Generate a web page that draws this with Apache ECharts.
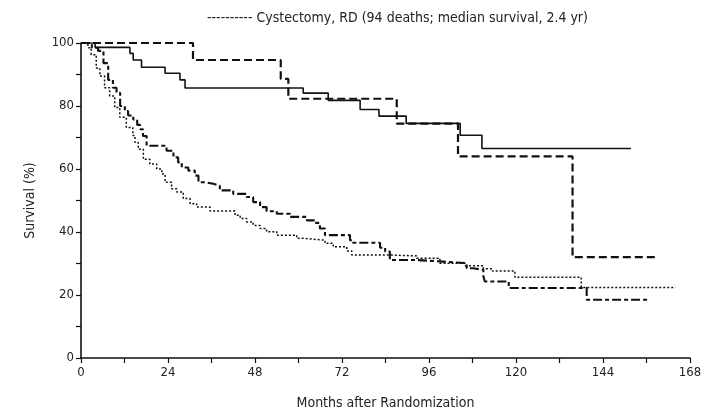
<!DOCTYPE html>
<html><head><meta charset="utf-8">
<script src="https://cdn.jsdelivr.net/npm/echarts@6/dist/echarts.min.js"></script>
<style>html,body{margin:0;padding:0;background:#fff}#c{width:705px;height:415px}</style>
</head><body><div id="c"></div>
<script>
// ---- data (months, survival %) ----
const solidMonths = [0, 3.9, 13.5, 14.4, 16.7, 23.2, 27.3, 28.7, 61.3, 68.2, 77, 82.2, 89.7, 104.6, 110.6, 151.7];
const solidSurv   = [100, 98.6, 96.7, 94.6, 92.3, 90.4, 88.3, 85.7, 84.1, 81.8, 78.9, 76.8, 74.5, 70.7, 66.5, 66.5];

const dashedMonths = [0, 30.9, 55.1, 57.2, 87.1, 104, 135.6, 158.5];
const dashedSurv   = [100, 94.6, 88.6, 82.3, 74.4, 64, 32, 32];

const dashDotMonths = [0, 3, 4.7, 6.2, 7.5, 8.8, 9.8, 10.8, 12.1, 13, 14.4, 15.5, 16.3, 17.1, 18.1, 23.6, 25.5, 26.8, 27.8, 29.6, 31.4, 32.4, 34.2, 36.5, 38.3, 42, 45.7, 47.5, 49.4, 51.2, 54, 57.7, 62.3, 64.6, 65.9, 67.3, 74.2, 75, 82.5, 83.9, 85.2, 92.6, 99.9, 106.4, 108.2, 111, 111.4, 118, 139.5, 156.5];
const dashDotSurv   = [100, 98.5, 97.5, 93.6, 88.3, 85.8, 84.2, 80, 78.4, 77, 75.7, 74, 72.6, 70.5, 67.4, 65.8, 63.7, 62.1, 60.5, 59.5, 57.9, 55.8, 55.3, 54.7, 53.2, 52.1, 51.1, 49.5, 47.9, 46.6, 45.8, 44.8, 43.7, 42.9, 41.1, 39, 37.4, 36.6, 35, 33.8, 31.1, 30.6, 30.1, 28.5, 28, 25.9, 24.3, 22.2, 18.5, 18.5];

const dottedMonths = [0, 1.9, 2.8, 4.2, 5.2, 6.5, 7.9, 9.3, 10.7, 12.5, 14.3, 14.9, 15.8, 17.2, 19, 20.9, 22.3, 23.2, 25, 26.4, 28.2, 30.1, 31.9, 35.6, 42.5, 43.9, 45.7, 47.5, 49.4, 51.2, 54, 59.5, 61.3, 67.3, 69.6, 73.3, 74.7, 85.2, 92.6, 99, 106, 111, 113.5, 119.7, 138, 164];
const dottedSurv   = [100, 98.5, 96.3, 92.1, 89.5, 85.8, 83.2, 79.5, 76.4, 73.2, 70.6, 68.4, 66.3, 63.1, 61.6, 60, 58.4, 55.8, 53.7, 52.7, 50.6, 49, 47.9, 46.7, 45.3, 44.3, 43.2, 42.1, 41.1, 40.1, 39, 38, 37.4, 36.4, 35.3, 34, 32.7, 32.4, 31.7, 30.1, 29.3, 28.3, 27.6, 25.6, 22.4, 22.4];

const xTicks = [0, 24, 48, 72, 96, 120, 144, 168];
const yTicks = [0, 20, 40, 60, 80, 100];
const legendText = "---------- Cystectomy, RD (94 deaths; median survival, 2.4 yr)";
const xTitle = "Months after Randomization";
const yTitle = "Survival (%)";

const FONT = "'Liberation Sans Narrow','DejaVu Sans Condensed',sans-serif";
const zip = (a, b) => a.map((v, i) => [v, b[i]]);

const chart = echarts.init(document.getElementById('c'), null, {renderer: 'canvas'});
const axisCommon = {
  axisLine: {show: true, onZero: false, lineStyle: {color: '#111', width: 1.6}},
  axisTick: {show: true, inside: false, length: 5, lineStyle: {color: '#111', width: 1.2}},
  splitLine: {show: false},
  nameTextStyle: {fontFamily: FONT, fontSize: 14, color: '#222'}
};
function mkSeries(name, data, width, dash) {
  return {
    name, type: 'line', step: 'end', data, showSymbol: false, symbol: 'none',
    lineStyle: {color: '#111', width, type: dash || 'solid'}, z: 3, silent: true
  };
}
chart.setOption({
  animation: false,
  backgroundColor: '#fff',
  grid: {left: 81, right: 15, top: 43, bottom: 55, containLabel: false},
  graphic: [{
    type: 'text', left: 207, top: 11,
    style: {text: legendText, font: '14px ' + FONT, fill: '#222'}
  }],
  xAxis: Object.assign({}, axisCommon, {
    type: 'value', min: 0, max: 168, interval: 12,
    axisLabel: {formatter: v => xTicks.includes(v) ? String(v) : '', fontFamily: FONT, fontSize: 13, color: '#222', margin: 8},
    name: xTitle, nameLocation: 'middle', nameGap: 38
  }),
  yAxis: Object.assign({}, axisCommon, {
    type: 'value', min: 0, max: 100, interval: 10,
    axisLabel: {formatter: v => yTicks.includes(v) ? String(v) : '', fontFamily: FONT, fontSize: 13, color: '#222', margin: 7},
    name: yTitle, nameLocation: 'middle', nameGap: 44
  }),
  series: [
    mkSeries('solid', zip(solidMonths, solidSurv), 1.6),
    mkSeries('dashed', zip(dashedMonths, dashedSurv), 2.2, [8, 4]),
    mkSeries('dashdot', zip(dashDotMonths, dashDotSurv), 2.1, [9, 3, 4, 3]),
    mkSeries('dotted', zip(dottedMonths, dottedSurv), 1.5, [2, 2])
  ]
});
</script>
</body></html>
